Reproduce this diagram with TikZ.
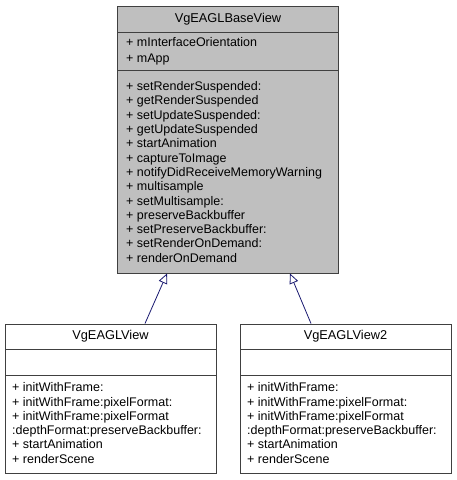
\documentclass[tikz,border=0pt]{standalone}
\usepackage{fontspec}
\setmainfont{Liberation Sans}
\usetikzlibrary{arrows.meta}
\definecolor{edgeblue}{HTML}{191970}
\definecolor{boxline}{HTML}{404040}
\definecolor{basefill}{HTML}{BFBFBF}
\tikzset{
	classbox/.style = {draw=boxline, line width=1pt, inner sep=0pt},
	members/.style  = {anchor=west, align=left, inner sep=0pt,
		font=\fontsize{12.5}{14.3}\selectfont},
	classname/.style = {inner sep=0pt, font=\fontsize{12.8}{14}\selectfont},
	inherit/.style  = {draw=edgeblue, line width=0.8pt,
		-{Triangle[open, length=10pt, width=9pt, fill=white]}}
}
\begin{document}
\begin{tikzpicture}[x=1pt, y=-1pt]
		\useasboundingbox (0,0) rectangle (456,480);
		% base class
		\node[classbox, fill=basefill, minimum width=221, minimum height=267] (base) at (228,139.5) {};
		\draw[boxline, line width=1pt] (118,32) -- (339,32);
		\draw[boxline, line width=1pt] (118,70) -- (339,70);
		\node[classname] (basename) at (228,19) {VgEAGLBaseView};
		\node[members, font=\fontsize{12.5}{16}\selectfont] (baseattr) at (126,51) {+ mInterfaceOrientation\\+ mApp};
		\node[members] (baseops) at (126,172) {+ setRenderSuspended:\\+ getRenderSuspended\\+ setUpdateSuspended:\\+ getUpdateSuspended\\+ startAnimation\\+ captureToImage\\+ notifyDidReceiveMemoryWarning\\+ multisample\\+ setMultisample:\\+ preserveBackbuffer\\+ setPreserveBackbuffer:\\+ setRenderOnDemand:\\+ renderOnDemand};
		% first subclass
		\node[classbox, fill=white, minimum width=211, minimum height=149] (view) at (110.5,398.5) {};
		\draw[boxline, line width=1pt] (5,349) -- (216,349);
		\draw[boxline, line width=1pt] (5,375) -- (216,375);
		\node[classname] (viewname) at (110.5,336) {VgEAGLView};
		\node[members] (viewops) at (12,423) {+ initWithFrame:\\+ initWithFrame:pixelFormat:\\+ initWithFrame:pixelFormat\\:depthFormat:preserveBackbuffer:\\+ startAnimation\\+ renderScene};
		% second subclass
		\node[classbox, fill=white, minimum width=211, minimum height=149] (viewtwo) at (345.5,398.5) {};
		\draw[boxline, line width=1pt] (240,349) -- (451,349);
		\draw[boxline, line width=1pt] (240,375) -- (451,375);
		\node[classname] (viewtwoname) at (345.5,336) {VgEAGLView2};
		\node[members] (viewtwoops) at (247,423) {+ initWithFrame:\\+ initWithFrame:pixelFormat:\\+ initWithFrame:pixelFormat\\:depthFormat:preserveBackbuffer:\\+ startAnimation\\+ renderScene};
		% inheritance
		\draw[inherit] ([xshift=34.5pt]view.north) -- ([xshift=-61pt]base.south);
		\draw[inherit] ([xshift=-34.5pt]viewtwo.north) -- ([xshift=62pt]base.south);
	\end{tikzpicture}
\end{document}
